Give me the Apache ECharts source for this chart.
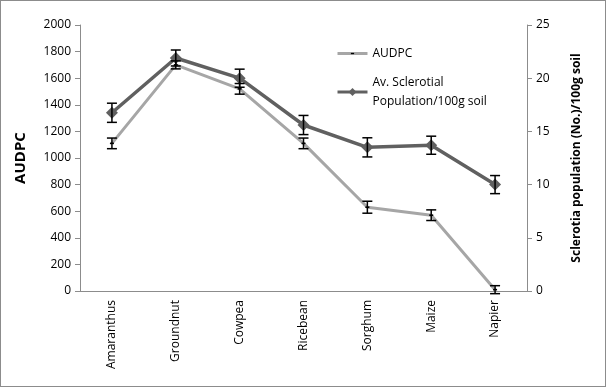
<!DOCTYPE html>
<html>
<head>
<meta charset="utf-8">
<script src="https://cdn.jsdelivr.net/npm/echarts@6/dist/echarts.min.js"></script>
<style>
  html, body { margin: 0; padding: 0; background: #fff; }
  #chart { width: 604px; height: 385px; border: 1px solid #8c8c8c; }
</style>
</head>
<body>
<div id="chart"></div>
<script>
var crops = ['Amaranthus', 'Groundnut', 'Cowpea', 'Ricebean', 'Sorghum', 'Maize', 'Napier']
var audpc = [1110, 1700, 1520, 1110, 630, 570, 10]
var audpcErr = [40, 30, 40, 40, 45, 40, 30]
var sclerotia = [16.75, 21.9, 20, 15.6, 13.5, 13.7, 10]
var sclerotiaErr = [0.9, 0.75, 0.85, 0.9, 0.9, 0.85, 0.85]

var FONT = 'Open Sans'
var AXIS_COLOR = '#8c8c8c'
var SERIES_2 = 'Av. Sclerotial\nPopulation/100g soil'
// small dash marker, padded to a square box so the legend keeps it thin
var DASH = 'path://M0,0L0,0M10,10L10,10M3,4.2L7,4.2L7,5.8L3,5.8Z'

function errorSeries(values, errs, axisIndex) {
  var data = values.map(function (v, i) { return [i, v - errs[i], v + errs[i]] })
  return {
    type: 'custom',
    yAxisIndex: axisIndex,
    z: 10,
    silent: true,
    data: data,
    renderItem: function (params, api) {
      var lo = api.coord([api.value(0), api.value(1)])
      var hi = api.coord([api.value(0), api.value(2)])
      var w = 5
      var style = { stroke: '#000', lineWidth: 1.5 }
      return {
        type: 'group',
        children: [
          { type: 'line', shape: { x1: hi[0], y1: hi[1], x2: lo[0], y2: lo[1] }, style: style },
          { type: 'line', shape: { x1: hi[0] - w, y1: hi[1], x2: hi[0] + w, y2: hi[1] }, style: style },
          { type: 'line', shape: { x1: lo[0] - w, y1: lo[1], x2: lo[0] + w, y2: lo[1] }, style: style }
        ]
      }
    }
  }
}

var chart = echarts.init(document.getElementById('chart'))
chart.setOption({
  animation: false,
  textStyle: { fontFamily: FONT },
  grid: { left: 79, right: 78, top: 24, bottom: 95 },
  legend: {
    orient: 'vertical',
    left: 330,
    top: 38,
    itemGap: 10,
    itemWidth: 30,
    itemHeight: 10,
    lineStyle: { width: 3 },
    textStyle: { fontFamily: FONT, fontSize: 12, color: '#000', lineHeight: 19 },
    data: ['AUDPC', SERIES_2]
  },
  xAxis: {
    type: 'category',
    data: crops,
    boundaryGap: true,
    axisLine: { lineStyle: { color: AXIS_COLOR } },
    axisTick: { alignWithLabel: false, length: 5, lineStyle: { color: AXIS_COLOR } },
    axisLabel: { rotate: 90, color: '#000', fontSize: 12, margin: 9, fontFamily: FONT }
  },
  yAxis: [
    {
      type: 'value',
      min: 0,
      max: 2000,
      interval: 200,
      name: 'AUDPC',
      nameLocation: 'middle',
      nameGap: 52,
      nameRotate: 90,
      nameTextStyle: { fontWeight: 'bold', fontSize: 15, color: '#000', fontFamily: FONT },
      axisLine: { show: true, lineStyle: { color: AXIS_COLOR } },
      axisTick: { show: true, length: 5, lineStyle: { color: AXIS_COLOR } },
      axisLabel: { color: '#000', fontSize: 12, margin: 9, fontFamily: FONT, formatter: function (v) { return String(v) } },
      splitLine: { show: false }
    },
    {
      type: 'value',
      min: 0,
      max: 25,
      interval: 5,
      position: 'right',
      name: 'Sclerotia population (No.)/100g soil',
      nameLocation: 'middle',
      nameGap: 44,
      nameRotate: 90,
      nameTextStyle: { fontWeight: 'bold', fontSize: 12, color: '#000', fontFamily: FONT },
      axisLine: { show: true, lineStyle: { color: AXIS_COLOR } },
      axisTick: { show: true, length: 5, lineStyle: { color: AXIS_COLOR } },
      axisLabel: { color: '#000', fontSize: 12, margin: 9, fontFamily: FONT },
      splitLine: { show: false }
    }
  ],
  series: [
    {
      name: 'AUDPC',
      type: 'line',
      yAxisIndex: 0,
      data: audpc,
      symbol: DASH,
      symbolSize: 10,
      itemStyle: { color: '#000' },
      lineStyle: { color: '#a6a6a6', width: 3 },
      z: 3
    },
    {
      name: SERIES_2,
      type: 'line',
      yAxisIndex: 1,
      data: sclerotia,
      symbol: 'diamond',
      symbolSize: 12,
      itemStyle: { color: '#606060' },
      lineStyle: { color: '#606060', width: 3.5 },
      z: 4
    },
    errorSeries(audpc, audpcErr, 0),
    errorSeries(sclerotia, sclerotiaErr, 1)
  ]
})
</script>
</body>
</html>
